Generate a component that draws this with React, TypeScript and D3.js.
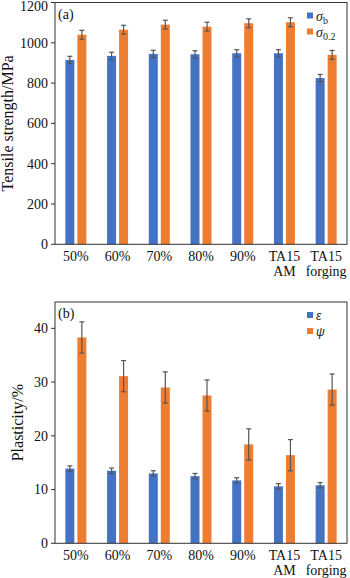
import React from "react";
import * as d3 from "d3";

const categories = ["50%", "60%", "70%", "80%", "90%", "TA15\nAM", "TA15\nforging"];
const sigmaB = [915, 935, 945, 943, 948, 948, 825];
const sigmaBErr = [18, 18, 18, 18, 18, 18, 18];
const sigma02 = [1040, 1065, 1090, 1080, 1097, 1102, 940];
const sigma02Err = [22, 22, 22, 22, 22, 22, 22];
const strengthTicks = [0, 200, 400, 600, 800, 1000, 1200];

const epsilon = [13.9, 13.5, 13.0, 12.5, 11.7, 10.6, 10.8];
const epsilonErr = [0.5, 0.5, 0.5, 0.5, 0.5, 0.5, 0.5];
const psi = [38.3, 31.1, 29.0, 27.5, 18.4, 16.4, 28.6];
const psiErr = [2.9, 2.9, 2.9, 2.9, 2.9, 2.9, 2.9];
const plasticityTicks = [0, 10, 20, 30, 40];

const BLUE = "#4472C4";
const ORANGE = "#ED7D31";
const FONT = "'Liberation Serif', 'Times New Roman', serif";

type PanelProps = {
  top: number;
  bottom: number;
  domain: [number, number];
  ticks: number[];
  s1: number[];
  e1: number[];
  s2: number[];
  e2: number[];
  label: string;
  ylabel: string;
  ylabelX: number;
  legend: React.ReactNode[];
  legendSans?: boolean;
};

function Panel(p: PanelProps) {
  const left = 55;
  const right = 347;
  const x = d3.scaleBand<string>().domain(categories).range([left, right]);
  const y = d3.scaleLinear().domain(p.domain).range([p.bottom, p.top]);
  const bw = 9;
  const off = 6;
  const errColor = "#555";
  const bar = (vals: number[], errs: number[], color: string, dx: number) =>
    categories.map((c, i) => {
      const cx = (x(c) as number) + x.bandwidth() / 2 + dx;
      const yv = y(vals[i]);
      const yh = y(vals[i] + errs[i]);
      const yl = y(vals[i] - errs[i]);
      return (
        <g key={c + color}>
          <rect x={cx - bw / 2} y={yv} width={bw} height={p.bottom - yv} fill={color} />
          <line x1={cx} x2={cx} y1={yh} y2={yl} stroke={errColor} strokeWidth={1.2} />
          <line x1={cx - 2.5} x2={cx + 2.5} y1={yh} y2={yh} stroke={errColor} strokeWidth={1.2} />
          <line x1={cx - 2.5} x2={cx + 2.5} y1={yl} y2={yl} stroke={errColor} strokeWidth={1.2} />
        </g>
      );
    });
  const midY = (p.top + p.bottom) / 2;
  const legendFont = p.legendSans ? "'Liberation Sans', Arial, sans-serif" : FONT;
  return (
    <g>
      {bar(p.s1, p.e1, BLUE, -off)}
      {bar(p.s2, p.e2, ORANGE, off)}
      <rect x={left} y={p.top} width={right - left} height={p.bottom - p.top} fill="none" stroke="#333" strokeWidth={1} />
      {p.ticks.map((t) => (
        <g key={t}>
          <line x1={left - 4} x2={left} y1={y(t)} y2={y(t)} stroke="#333" />
          <text x={left - 7} y={Math.max(y(t), 6)} dy="0.35em" textAnchor="end" fontSize={14} fontFamily={FONT} fill="#111">
            {t}
          </text>
        </g>
      ))}
      {categories.map((c) => {
        const lines = c.split("\n");
        const cx = (x(c) as number) + x.bandwidth() / 2;
        return (
          <text key={c} x={cx} y={p.bottom + 17} textAnchor="middle" fontSize={14} fontFamily={FONT} fill="#111">
            {lines.map((l, i) => (
              <tspan key={i} x={cx} dy={i === 0 ? 0 : 15}>
                {l}
              </tspan>
            ))}
          </text>
        );
      })}
      <text
        transform={`translate(${p.ylabelX},${midY}) rotate(-90)`}
        textAnchor="middle"
        fontSize={16}
        fontFamily={FONT}
        fill="#111"
      >
        {p.ylabel}
      </text>
      <text x={58} y={p.top + 16} fontSize={14} fontFamily={FONT} fill="#111">
        {p.label}
      </text>
      <rect x={307} y={p.top + 10} width={6} height={6} fill={BLUE} />
      <rect x={307} y={p.top + 26} width={6} height={6} fill={ORANGE} />
      <text x={316} y={p.top + 18} fontSize={p.legendSans ? 12 : 14} fontFamily={legendFont} fill="#222">
        {p.legend[0]}
      </text>
      <text x={316} y={p.top + 34} fontSize={p.legendSans ? 12 : 14} fontFamily={legendFont} fill="#222">
        {p.legend[1]}
      </text>
    </g>
  );
}

export default function App() {
  return (
    <svg width={350} height={578} style={{ position: "absolute", left: 0, top: 0, background: "#fff" }}>
      <rect width={350} height={578} fill="#fff" />
      <Panel
        top={2.5}
        bottom={244.3}
        domain={[0, 1200]}
        ticks={strengthTicks}
        s1={sigmaB}
        e1={sigmaBErr}
        s2={sigma02}
        e2={sigma02Err}
        label="(a)"
        ylabel="Tensile strength/MPa"
        ylabelX={13}
        legend={[
          <>
            <tspan fontStyle="italic">σ</tspan>
            <tspan fontSize={10} dy={3}>b</tspan>
          </>,
          <>
            <tspan fontStyle="italic">σ</tspan>
            <tspan fontSize={10} dy={3}>0.2</tspan>
          </>,
        ]}
      />
      <Panel
        top={302}
        bottom={543.3}
        domain={[0, 44.9]}
        ticks={plasticityTicks}
        s1={epsilon}
        e1={epsilonErr}
        s2={psi}
        e2={psiErr}
        label="(b)"
        ylabel="Plasticity/%"
        ylabelX={23}
        legendSans
        legend={[<tspan fontStyle="italic">ε</tspan>, <tspan fontStyle="italic">ψ</tspan>]}
      />
    </svg>
  );
}
